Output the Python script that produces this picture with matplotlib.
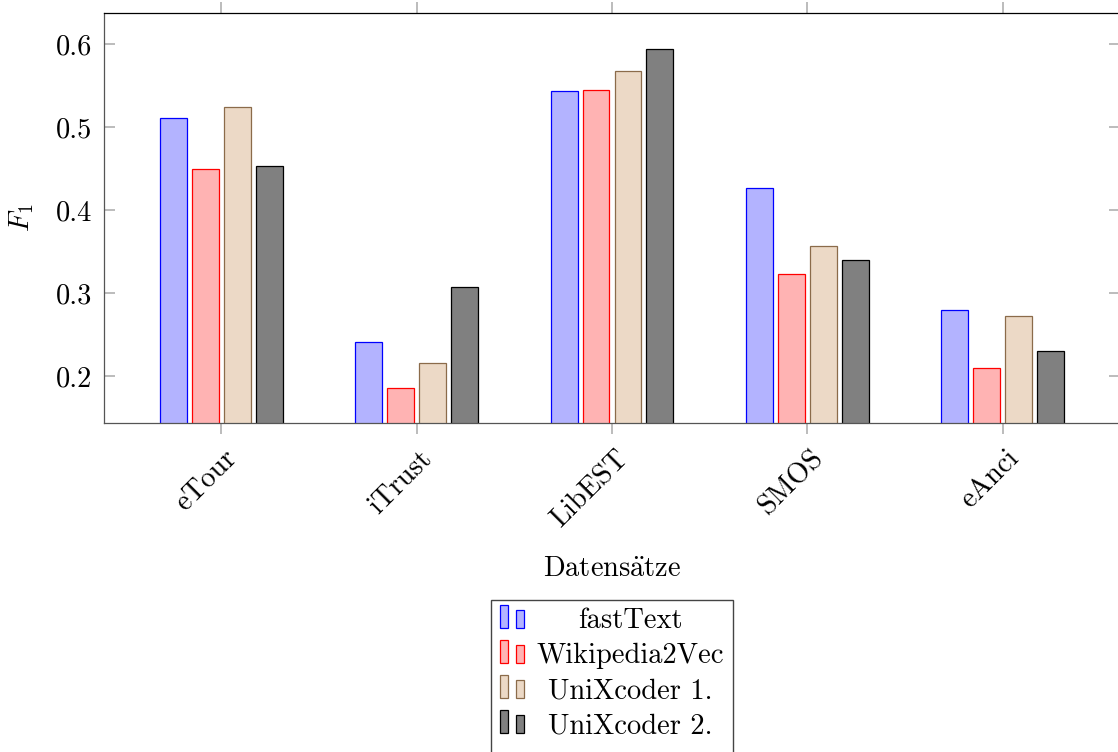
import matplotlib
matplotlib.use("Agg")
import matplotlib.pyplot as plt
from matplotlib.patches import Rectangle
from matplotlib.transforms import ScaledTranslation
import numpy as np

plt.rcParams['font.family'] = ['cmr10', 'DejaVu Serif']
plt.rcParams['mathtext.fontset'] = 'cm'
plt.rcParams['axes.formatter.use_mathtext'] = True

categories = ["eTour", "iTrust", "LibEST", "SMOS", "eAnci"]
series_names = ["fastText", "Wikipedia2Vec", "UniXcoder 1.", "UniXcoder 2."]
fasttext = [0.511, 0.241, 0.543, 0.427, 0.279]
wikipedia2vec = [0.449, 0.186, 0.545, 0.323, 0.210]
unixcoder1 = [0.524, 0.216, 0.567, 0.357, 0.272]
unixcoder2 = [0.453, 0.307, 0.594, 0.340, 0.230]
series_values = [fasttext, wikipedia2vec, unixcoder1, unixcoder2]
yticks = [0.2, 0.3, 0.4, 0.5, 0.6]
ytick_labels = ["0.2", "0.3", "0.4", "0.5", "0.6"]

fills = [(0.7, 0.7, 1.0), (1.0, 0.7, 0.7), (0.925, 0.85, 0.775), (0.5, 0.5, 0.5)]
edges = ["#0000ff", "#ff0000", "#8b6b4a", "#000000"]

FS = 20.5
W, H = 1118, 752
fig = plt.figure(figsize=(W / 100, H / 100), dpi=100)
ax = fig.add_axes([104 / W, 1 - 423 / H, 1016 / W, 410 / H])

x = np.arange(len(categories))
step = 0.1637
bw = 0.138
for k, vals in enumerate(series_values):
    ax.bar(x + (k - 1.5) * step, vals, width=bw, color=fills[k],
           edgecolor=edges[k], linewidth=0.9, zorder=2)

ax.set_xlim(-0.6, len(categories) - 0.4)
ax.set_ylim(0.1434, 0.6373)

ax.set_yticks(yticks)
ax.set_yticklabels(ytick_labels, fontsize=FS)
ax.set_xticks(x)
ax.set_xticklabels(categories, fontsize=FS, rotation=45, ha='right',
                   va='center', rotation_mode='anchor')

ax.tick_params(axis='x', direction='out', length=8, width=1.1, color='#aaaaaa',
               top=True, bottom=True, pad=6)
ax.tick_params(axis='y', direction='in', length=8, width=1.1, color='#aaaaaa',
               left=True, right=True, pad=8.5)

off = ScaledTranslation(0.12, -0.12, fig.dpi_scale_trans)
for lbl in ax.get_xticklabels():
    lbl.set_transform(lbl.get_transform() + off)

for s in ['left', 'bottom']:
    ax.spines[s].set_color('#555555')
    ax.spines[s].set_linewidth(0.9)
ax.spines['top'].set_color('black')
ax.spines['top'].set_linewidth(0.9)
ax.spines['right'].set_color('#555555')

ax.set_xlabel(r'Datens$\ddot{\mathrm{a}}$tze', fontsize=FS, va='center')
ax.xaxis.set_label_coords(0.5, (423 - 570) / 410)
ax.set_ylabel(r'$F_1$', fontsize=FS, va='center')
ax.yaxis.set_label_coords((22 - 104) / 1016, 0.5)

# legend (pgfplots style, drawn manually)
def fx(px):
    return px / W

def fy(py):
    return 1 - py / H

fig.patches.append(Rectangle((fx(491), fy(760)), fx(733) - fx(491), fy(600) - fy(760),
                             transform=fig.transFigure, facecolor='white',
                             edgecolor='#444444', linewidth=1.0, zorder=5))
row_centers = [621, 656, 691, 726]
for k, name in enumerate(series_names):
    yc = row_centers[k]
    fig.patches.append(Rectangle((fx(500), fy(yc + 7)), fx(508) - fx(500), fy(yc - 16) - fy(yc + 7),
                                 transform=fig.transFigure, facecolor=fills[k],
                                 edgecolor=edges[k], linewidth=0.9, zorder=6))
    fig.patches.append(Rectangle((fx(516), fy(yc + 7)), fx(524) - fx(516), fy(yc - 11) - fy(yc + 7),
                                 transform=fig.transFigure, facecolor=fills[k],
                                 edgecolor=edges[k], linewidth=0.9, zorder=6))
    fig.text(fx(630), fy(yc), name, fontsize=FS, ha='center', va='center', zorder=7)

fig.savefig("out.png", dpi=100)
